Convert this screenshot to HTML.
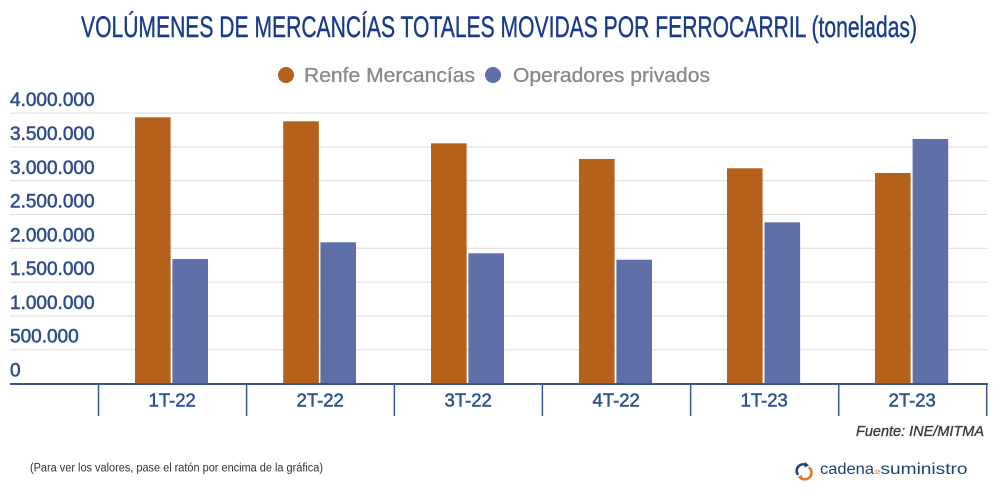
<!DOCTYPE html>
<html>
<head>
<meta charset="utf-8">
<style>
  html, body { margin:0; padding:0; background:#ffffff; }
  body { width:1000px; height:500px; overflow:hidden; }
  svg { display:block; }
  text { font-family: "Liberation Sans", "DejaVu Sans", sans-serif; }
</style>
</head>
<body>
<svg width="1000" height="500" viewBox="0 0 1000 500" xmlns="http://www.w3.org/2000/svg">
  <rect x="0" y="0" width="1000" height="500" fill="#ffffff"/>

  <!-- Title -->
  <text x="81" y="37" font-size="30" fill="#1a3a8a" stroke="#1a3a8a" stroke-width="0.4" textLength="836" lengthAdjust="spacingAndGlyphs">VOLÚMENES DE MERCANCÍAS TOTALES MOVIDAS POR FERROCARRIL (toneladas)</text>

  <!-- Legend -->
  <circle cx="286" cy="75" r="8" fill="#b5601b"/>
  <text x="304" y="82" font-size="20.5" fill="#8a8a8a" stroke="#8a8a8a" stroke-width="0.35" textLength="171" lengthAdjust="spacingAndGlyphs">Renfe Mercancías</text>
  <circle cx="493" cy="75" r="8" fill="#5f6fa8"/>
  <text x="513" y="82" font-size="20.5" fill="#8a8a8a" stroke="#8a8a8a" stroke-width="0.35" textLength="197" lengthAdjust="spacingAndGlyphs">Operadores privados</text>

  <!-- Gridlines -->
  <g stroke="#dcdcdc" stroke-width="1">
    <line x1="10" y1="113.1" x2="988" y2="113.1"/>
    <line x1="10" y1="146.9" x2="988" y2="146.9"/>
    <line x1="10" y1="180.7" x2="988" y2="180.7"/>
    <line x1="10" y1="214.5" x2="988" y2="214.5"/>
    <line x1="10" y1="248.3" x2="988" y2="248.3"/>
    <line x1="10" y1="282.1" x2="988" y2="282.1"/>
    <line x1="10" y1="315.9" x2="988" y2="315.9"/>
    <line x1="10" y1="349.7" x2="988" y2="349.7"/>
  </g>

  <!-- Y labels -->
  <g font-size="19" fill="#2f4d8e" stroke="#2f4d8e" stroke-width="0.55">
    <text x="10" y="106">4.000.000</text>
    <text x="10" y="140">3.500.000</text>
    <text x="10" y="174">3.000.000</text>
    <text x="10" y="207.5">2.500.000</text>
    <text x="10" y="241.5">2.000.000</text>
    <text x="10" y="275">1.500.000</text>
    <text x="10" y="309">1.000.000</text>
    <text x="10" y="342.5">500.000</text>
    <text x="10" y="376.5">0</text>
  </g>

  <!-- Bars: Renfe -->
  <g fill="#b5601b">
    <rect x="135" y="117.3" width="35.6" height="265.7"/>
    <rect x="283.2" y="121.3" width="35.6" height="261.7"/>
    <rect x="431" y="143.3" width="35.6" height="239.7"/>
    <rect x="579" y="159" width="35.6" height="224"/>
    <rect x="727" y="168.3" width="35.6" height="214.7"/>
    <rect x="875" y="173" width="35.6" height="210"/>
  </g>
  <!-- Bars: Operadores privados -->
  <g fill="#5f6fa8">
    <rect x="172.4" y="259" width="35.6" height="124"/>
    <rect x="320.4" y="242.3" width="35.6" height="140.7"/>
    <rect x="468.4" y="253.3" width="35.6" height="129.7"/>
    <rect x="616.4" y="259.7" width="35.6" height="123.3"/>
    <rect x="764.5" y="222.3" width="35.6" height="160.7"/>
    <rect x="912.6" y="139" width="35.6" height="244"/>
  </g>

  <!-- Axis -->
  <line x1="10" y1="384" x2="988" y2="384" stroke="#3b5687" stroke-width="2"/>
  <g stroke="#3b5687" stroke-width="1.5">
    <line x1="98.5" y1="384" x2="98.5" y2="416"/>
    <line x1="246.6" y1="384" x2="246.6" y2="416"/>
    <line x1="394.4" y1="384" x2="394.4" y2="416"/>
    <line x1="542.4" y1="384" x2="542.4" y2="416"/>
    <line x1="690.6" y1="384" x2="690.6" y2="416"/>
    <line x1="838.7" y1="384" x2="838.7" y2="416"/>
    <line x1="986.7" y1="384" x2="986.7" y2="416"/>
  </g>

  <!-- Category labels -->
  <g font-size="18.5" fill="#2d4e90" stroke="#2d4e90" stroke-width="0.5" text-anchor="middle">
    <text x="172.2" y="406.7">1T-22</text>
    <text x="320.2" y="406.7">2T-22</text>
    <text x="468.2" y="406.7">3T-22</text>
    <text x="616.2" y="406.7">4T-22</text>
    <text x="764.2" y="406.7">1T-23</text>
    <text x="912.2" y="406.7">2T-23</text>
  </g>

  <!-- Source -->
  <text x="856" y="436" font-size="14.5" font-style="italic" fill="#3c3c3c" stroke="#3c3c3c" stroke-width="0.35" textLength="128" lengthAdjust="spacingAndGlyphs">Fuente: INE/MITMA</text>

  <!-- Note -->
  <text x="30" y="471.5" font-size="11.5" fill="#333333" textLength="293" lengthAdjust="spacingAndGlyphs">(Para ver los valores, pase el ratón por encima de la gráfica)</text>

  <!-- Logo icon -->
  <g fill="none" stroke-width="2.6" stroke-linecap="round">
    <path d="M 797.5 474 A 6.5 6.5 0 0 1 806 465" stroke="#1d3f7a"/>
    <path d="M 809.5 468 A 6.5 6.5 0 0 1 800.5 477.5" stroke="#e8772e"/>
  </g>
  <path d="M 805 462 L 809 465.5 L 804.5 467.5 Z" fill="#1d3f7a"/>
  <path d="M 802 480.5 L 797.5 477 L 802 475 Z" fill="#e8772e"/>

  <!-- Logo text -->
  <text x="820" y="474" font-size="16" fill="#1d3f7a" textLength="54" lengthAdjust="spacingAndGlyphs">cadena</text>
  <text x="874.5" y="474" font-size="7" fill="#e8772e" textLength="6" lengthAdjust="spacingAndGlyphs">de</text>
  <text x="880.5" y="474" font-size="16" fill="#1d3f7a" textLength="87" lengthAdjust="spacingAndGlyphs">suministro</text>
</svg>
</body>
</html>
